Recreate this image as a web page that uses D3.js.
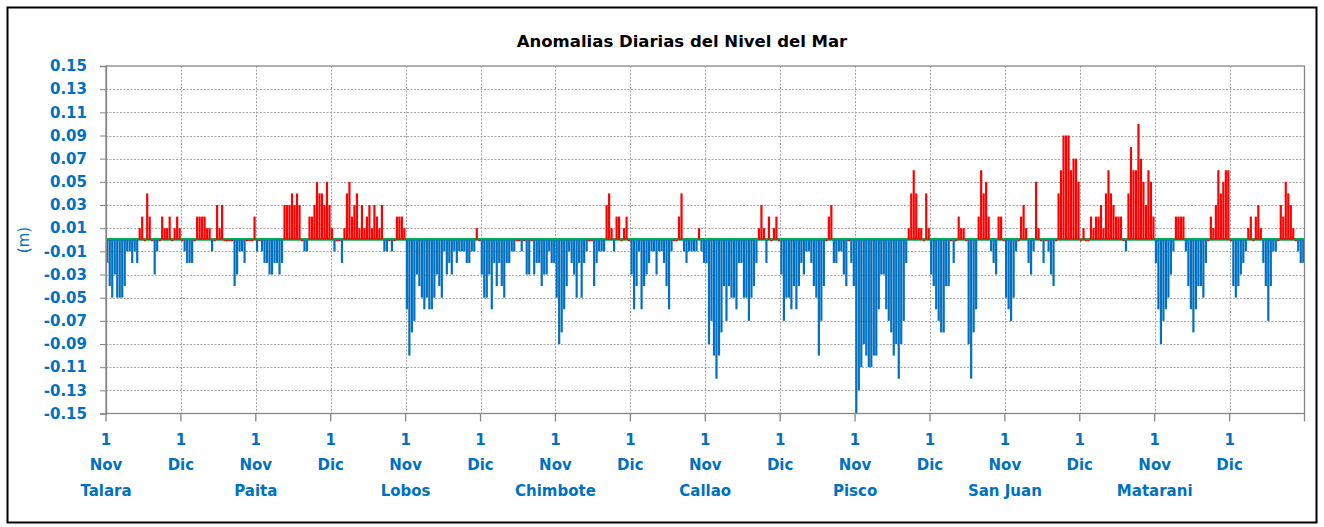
<!DOCTYPE html>
<html><head><meta charset="utf-8">
<script src="https://cdn.jsdelivr.net/npm/d3@7"></script>
<style>html,body{margin:0;padding:0;background:#fff;} svg{display:block}</style>
</head><body><svg id="c" width="1324" height="527"></svg>
<script>
// ---------------- data ----------------
const title = "Anomalias Diarias del Nivel del Mar";
const yTitle = "(m)";
const stations = ["Talara","Paita","Lobos","Chimbote","Callao","Pisco","San Juan","Matarani"];
const monthLabels = ["Nov","Dic"];
const dayLabel = "1";
const daysPerMonth = 30;
const yTickLabels = ["0.15","0.13","0.11","0.09","0.07","0.05","0.03","0.01","-0.01","-0.03","-0.05","-0.07","-0.09","-0.11","-0.13","-0.15"];

const talara = [-0.02,-0.04,-0.05,-0.03,-0.05,-0.05,-0.05,-0.04,-0.01,-0.01,-0.02,-0.01,-0.02,0.01,0.02,0,0.04,0.02,0,-0.03,
  -0.01,0,0.02,0.01,0.01,0.02,0,0.01,0.02,0.01,
  0,-0.01,-0.02,-0.02,-0.02,0,0.02,0.02,0.02,0.02,
  0.01,0.01,-0.01,0,0.03,0.01,0.03,0,0,0,
  0,-0.04,-0.03,-0.01,-0.01,-0.02,0,0,0,0.02];
const paita = [-0.01,0,-0.01,-0.02,-0.02,-0.03,-0.03,-0.02,-0.02,-0.03,-0.02,
  0.03,0.03,0.03,0.04,0.03,0.04,0.03,0,-0.01,-0.01,
  0.02,0.02,0.03,0.05,0.04,0.04,0.03,0.05,0.03,
  0.01,-0.01,0,0,-0.02,0.01,0.04,0.05,0.02,0.03,
  0.04,0.01,0.03,0.01,0.02,0.03,0.01,0.03,0.02,0.01,
  0.03,-0.01,-0.01,0,-0.01,0,0.02,0.02,0.02,0.01];
const lobos = [-0.06,-0.10,-0.08,-0.07,-0.03,-0.04,-0.05,-0.06,-0.05,-0.06,
  -0.06,-0.05,-0.03,-0.04,-0.05,-0.01,-0.03,-0.02,-0.03,-0.01,
  -0.02,-0.01,-0.01,-0.01,-0.02,-0.02,-0.01,-0.01,0.01,0,
  -0.03,-0.05,-0.05,-0.03,-0.06,-0.02,-0.04,-0.02,-0.04,-0.05,
  -0.02,-0.02,-0.01,-0.01,0,0,-0.01,0,-0.03,-0.03,
  0,-0.03,-0.02,-0.02,-0.04,-0.03,-0.03,-0.01,-0.02,-0.02];
const chimbote = [-0.05,-0.09,-0.08,-0.06,-0.04,-0.01,-0.02,-0.03,-0.05,-0.02,
  -0.05,-0.02,-0.01,0,0,-0.04,-0.02,-0.01,-0.01,-0.01,
  0.03,0.04,0.01,-0.01,0.02,0.02,0,0.01,0.02,0,
  -0.03,-0.06,-0.04,-0.01,-0.06,-0.04,-0.03,-0.02,-0.01,-0.01,
  -0.03,-0.01,-0.01,-0.02,-0.04,-0.06,-0.01,0,0,0.02,
  0.04,-0.01,-0.02,-0.01,-0.01,-0.01,-0.01,0.01,-0.01,-0.02];
const callao = [-0.02,-0.09,-0.07,-0.10,-0.12,-0.10,-0.08,-0.04,-0.07,-0.04,
  -0.05,-0.05,-0.06,-0.02,-0.02,-0.05,-0.05,-0.07,-0.05,-0.04,
  -0.02,0.01,0.03,0.01,-0.02,0.02,0,0.01,0.02,0,
  -0.03,-0.07,-0.05,-0.05,-0.06,-0.04,-0.06,-0.04,-0.02,-0.03,
  -0.01,-0.01,-0.02,-0.04,-0.05,-0.10,-0.07,-0.04,0,0.02,
  0.03,-0.02,-0.02,-0.01,-0.01,-0.03,-0.04,0,-0.02,-0.04];
const pisco = [-0.15,-0.13,-0.11,-0.09,-0.10,-0.11,-0.11,-0.10,-0.10,-0.06,
  -0.03,-0.03,-0.06,-0.07,-0.08,-0.10,-0.09,-0.12,-0.09,-0.07,
  -0.02,0.01,0.04,0.06,0.04,0.01,0.01,0,0.04,0.01,
  -0.03,-0.04,-0.06,-0.07,-0.08,-0.08,-0.04,-0.04,0,-0.02,
  0,0.02,0.01,0.01,0,-0.09,-0.12,-0.08,-0.06,0.02,
  0.06,0.04,0.05,0.02,-0.01,-0.02,-0.03,0.02,0.02,0];
const sanJuan = [-0.05,-0.06,-0.07,-0.05,-0.01,0,0.02,0.03,0.01,-0.02,
  -0.03,-0.01,0.05,0.01,0,-0.02,0,-0.01,-0.03,-0.04,
  0,0.04,0.06,0.09,0.09,0.09,0.06,0.07,0.07,0.05,
  0,0.01,0,0,0.02,0.01,0.02,0.02,0.03,0.01,
  0.04,0.06,0.04,0.03,0.02,0.02,0.02,0,-0.01,0.04,
  0.08,0.06,0.06,0.10,0.07,0.05,0.03,0.06,0.05,0.02];
const matarani = [-0.02,-0.06,-0.09,-0.07,-0.06,-0.05,-0.03,-0.01,0.02,0.02,
  0.02,0.02,-0.01,-0.04,-0.06,-0.08,-0.06,-0.04,-0.04,-0.05,
  -0.02,0,0.02,0.01,0.03,0.06,0.04,0.05,0.06,0.06,
  0,-0.04,-0.05,-0.04,-0.03,-0.02,-0.01,0.01,0.02,0,
  0.02,0.03,0.01,-0.02,-0.04,-0.07,-0.04,-0.01,-0.01,0,
  0.03,0.02,0.05,0.04,0.03,0.01,0,-0.01,-0.02,-0.02];
const seriesByStation = [talara, paita, lobos, chimbote, callao, pisco, sanJuan, matarani];

// ---------------- chart ----------------
const C = {blue:"#0070C0", red:"#FF0000", green:"#00B050", grid:"#A6A6A6", frame:"#868686", text:"#0070C0"};
const FONT = "'DejaVu Sans', Verdana, sans-serif";
const plot = {left:106, right:1304.5, top:66, bottom:413.5};

const data = [];
seriesByStation.forEach((arr, s) => arr.forEach((v, i) => data.push({key: s + "-" + i, s, i, v})));

const svg = d3.select("#c");
svg.append("rect").attr("width",1324).attr("height",527).attr("fill","#fff");
svg.append("rect").attr("x",7.5).attr("y",7.5).attr("width",1309).attr("height",515)
  .attr("fill","none").attr("stroke","#000").attr("stroke-width",2);

const x = d3.scaleBand().domain(data.map(d => d.key)).range([plot.left, plot.right])
  .paddingInner(0.12).paddingOuter(0.06);
const y = d3.scaleLinear().domain([-0.15, 0.15]).range([plot.bottom, plot.top]);
const edge = k => x(k) - x.step() * x.paddingInner() / 2;

// tick positions on the category axis
const tickKeys = [];
stations.forEach((st, s) => {
  monthLabels.forEach((m, mi) => tickKeys.push({key: s + "-" + (mi * daysPerMonth), s, mi}));
});

// horizontal grid
const yVals = yTickLabels.map(Number);
svg.append("g").selectAll("line").data(yVals.filter(v => Math.abs(v) < 0.149)).join("line")
  .attr("x1", plot.left).attr("x2", plot.right)
  .attr("y1", d => Math.round(y(d)) + 0.5).attr("y2", d => Math.round(y(d)) + 0.5)
  .attr("stroke", C.grid).attr("stroke-width", 1).attr("stroke-dasharray", "2,1.5");
// vertical grid
svg.append("g").selectAll("line").data(tickKeys.filter(t => !(t.s === 0 && t.mi === 0))).join("line")
  .attr("x1", d => Math.round(edge(d.key)) + 0.5).attr("x2", d => Math.round(edge(d.key)) + 0.5)
  .attr("y1", plot.top).attr("y2", plot.bottom)
  .attr("stroke", C.grid).attr("stroke-width", 1).attr("stroke-dasharray", "2,1.5");

// zero line
svg.append("line").attr("x1", plot.left).attr("x2", plot.right)
  .attr("y1", y(0) - 0.3).attr("y2", y(0) - 0.3)
  .attr("stroke", C.green).attr("stroke-width", 2.8);

// bars
svg.append("g").selectAll("rect").data(data).join("rect")
  .attr("x", d => x(d.key)).attr("width", x.bandwidth())
  .attr("y", d => d.v > 0 ? y(d.v) : y(0))
  .attr("height", d => d.v === 0 ? 1.5 : Math.abs(y(d.v) - y(0)))
  .attr("fill", d => d.v >= 0 ? C.red : C.blue);

// frame
svg.append("rect").attr("x", plot.left).attr("y", plot.top)
  .attr("width", plot.right - plot.left).attr("height", plot.bottom - plot.top)
  .attr("fill","none").attr("stroke", C.frame).attr("stroke-width", 1.3);

// y axis
const yAxis = d3.axisLeft(y).tickValues(yVals).tickSize(6).tickPadding(13)
  .tickFormat((d, i) => yTickLabels[i]);
const gy = svg.append("g").attr("transform", `translate(${plot.left},0)`).call(yAxis);
gy.select(".domain").attr("stroke", C.frame).attr("stroke-width", 1.3);
gy.selectAll(".tick line").attr("stroke", C.frame);
gy.selectAll(".tick text").attr("fill", C.text).style("font", `bold 15px ${FONT}`);

// x axis ticks
const xt = tickKeys.map(t => edge(t.key)).concat([plot.right]);
svg.append("g").selectAll("line").data(xt).join("line")
  .attr("x1", d => d).attr("x2", d => d).attr("y1", plot.bottom).attr("y2", plot.bottom + 8)
  .attr("stroke", C.frame).attr("stroke-width", 1.3);

const lab = svg.append("g").attr("fill", C.text).attr("text-anchor", "middle")
  .style("font", `bold 15px ${FONT}`);
tickKeys.forEach(t => {
  const xx = edge(t.key);
  lab.append("text").attr("x", xx).attr("y", 445).text(dayLabel);
  lab.append("text").attr("x", xx).attr("y", 470).text(monthLabels[t.mi]);
  if (t.mi === 0) lab.append("text").attr("x", xx).attr("y", 496).text(stations[t.s]);
});

// titles
svg.append("text").attr("x", 682).attr("y", 47).attr("text-anchor", "middle")
  .style("font", `bold 16.5px ${FONT}`).attr("fill", "#000").text(title);
svg.append("text").attr("transform", "translate(29,240) rotate(-90)").attr("text-anchor", "middle")
  .style("font", `15px ${FONT}`).attr("fill", C.text).text(yTitle);
</script></body></html>
